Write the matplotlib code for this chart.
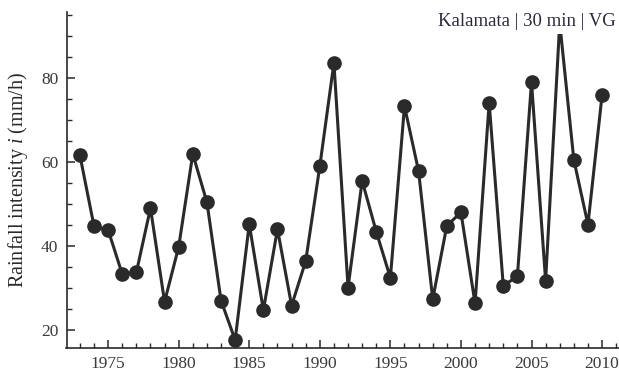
import matplotlib
matplotlib.use("Agg")
import matplotlib.pyplot as plt
from matplotlib.ticker import MultipleLocator

years = list(range(1973, 2011))
intensity = [61.5, 44.6, 43.7, 33.2, 33.6, 48.9, 26.6, 39.7, 61.8, 50.3,
             26.9, 17.5, 45.1, 24.6, 43.9, 25.7, 36.3, 58.9, 83.5, 30.0,
             55.4, 43.3, 32.3, 73.2, 57.7, 27.2, 44.7, 47.9, 26.2, 74.0,
             30.4, 32.7, 78.9, 31.6, 93.0, 60.4, 45.0, 75.8]
yticks = [20, 40, 60, 80]
xticks = [1975, 1980, 1985, 1990, 1995, 2000, 2005, 2010]
title = "Kalamata | 30 min | VG"
ylabel = "Rainfall intensity $\\mathit{i}$ (mm/h)"

plt.rcParams['font.family'] = ['Liberation Serif', 'DejaVu Serif']
plt.rcParams['mathtext.fontset'] = 'custom'
plt.rcParams['mathtext.it'] = 'Liberation Serif:italic'
plt.rcParams['mathtext.rm'] = 'Liberation Serif'

fig = plt.figure(figsize=(6.19, 3.72), dpi=100)
ax = fig.add_axes([66.5/619, 24/372, (619-66.5)/619, (348-12)/372])
c = '#2a2a2a'
ax.plot(years, intensity, color=c, lw=2.2, marker='o', ms=9.5, mfc=c, mec=c, zorder=2)

ax.set_xlim(1972.05, 2011.2)
ax.set_ylim(15.6, 95.6)
ax.set_xticks(xticks)
ax.set_yticks(yticks)
ax.xaxis.set_minor_locator(MultipleLocator(1))
ax.yaxis.set_minor_locator(MultipleLocator(5))
ax.tick_params(which='major', direction='in', length=6, width=1.1, colors=c,
               labelsize=12.5, labelcolor='#3a3a3a', pad=6)
ax.tick_params(which='minor', direction='in', length=3.5, width=1.0, colors=c)
for s in ['top', 'right']:
    ax.spines[s].set_visible(False)
for s in ['left', 'bottom']:
    ax.spines[s].set_linewidth(1.2)
    ax.spines[s].set_color(c)

ax.set_ylabel(ylabel, fontsize=14.5, color='#2a2a2a', labelpad=8)
fig.text(616/619, 1 - 26/372, title, ha='right', va='baseline', fontsize=13.5,
         color='#2a2a3a', zorder=5,
         bbox=dict(facecolor='white', edgecolor='none', pad=2.5))

fig.savefig('out.png', dpi=100)
